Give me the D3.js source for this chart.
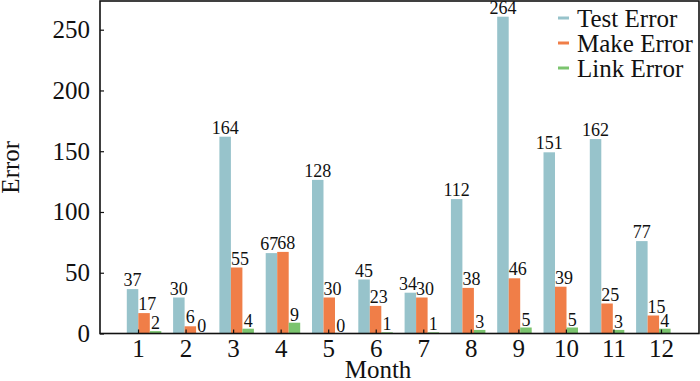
<!DOCTYPE html>
<html>
<head>
<meta charset="utf-8">
<script src="https://cdn.jsdelivr.net/npm/d3@7"></script>
<style>
  body { margin: 0; background: #fff; }
  text { font-family: "Liberation Serif", "DejaVu Serif", serif; fill: #111; }
</style>
</head>
<body>
<div id="chart"></div>
<script>
var width = 700;
var height = 381;

// data
var months = [1, 2, 3, 4, 5, 6, 7, 8, 9, 10, 11, 12];
var testError = [37, 30, 164, 67, 128, 45, 34, 112, 264, 151, 162, 77];
var makeError = [17, 6, 55, 68, 30, 23, 30, 38, 46, 39, 25, 15];
var linkError = [2, 0, 4, 9, 0, 1, 1, 3, 5, 5, 3, 4];
var yTicks = [0, 50, 100, 150, 200, 250];

var series = [
  {name: 'Test Error', values: testError, color: '#97c3cb', offset: -1},
  {name: 'Make Error', values: makeError, color: '#f07e48', offset: 0},
  {name: 'Link Error', values: linkError, color: '#7bc46e', offset: 1}
];

var margin = {top: 1, right: 1, bottom: 47.5, left: 100};
var y0 = height - margin.bottom;

var svg = d3.select('#chart')
  .append('svg')
    .attr('width', width)
    .attr('height', height);

// axis scales
var x = d3.scaleLinear()
  .domain([0.2, 12.8])
  .range([margin.left, width - margin.right]);

var y = d3.scaleLinear()
  .domain([0, 250])
  .range([y0, 29.7]);

// the bars in the original sit on a slightly tighter grid than the axis
var xBar = d3.scaleLinear()
  .domain([1, 12])
  .range([138.3, 647.6]);

var yBar = d3.scaleLinear()
  .domain([0, 264])
  .range([y0, 16.7]);

var barW = 11.5;

series.forEach(function(s) {
  var g = svg.append('g');
  g.selectAll('rect')
    .data(months)
    .join('rect')
      .attr('x', (m) => xBar(m) + s.offset * barW)
      .attr('y', (m, i) => yBar(s.values[i]))
      .attr('width', barW)
      .attr('height', (m, i) => y0 - yBar(s.values[i]))
      .attr('fill', s.color);
});

// value labels
var labels = svg.append('g').style('font-size', '18px');
months.forEach(function(m, i) {
  var t = testError[i], mk = makeError[i], l = linkError[i];
  var tx = xBar(m) - barW / 2, anchor = 'middle';
  // test label moves left when the make label sits at the same height
  if (Math.abs(t - mk) < 15) { tx = xBar(m) + 1; anchor = 'end'; }
  labels.append('text')
    .attr('x', tx).attr('y', yBar(t) - 3)
    .attr('text-anchor', anchor)
    .text(t);
  labels.append('text')
    .attr('x', mk >= 10 ? xBar(m) : xBar(m) + barW / 2)
    .attr('y', yBar(mk) - 3)
    .attr('text-anchor', mk >= 10 ? 'start' : 'middle')
    .text(mk);
  labels.append('text')
    .attr('x', xBar(m) + barW * 1.5).attr('y', yBar(l) - 2)
    .attr('text-anchor', 'middle')
    .text(l);
});

// axes, ticks pointing inward
var xAxis = svg.append('g')
  .attr('transform', 'translate(0,' + y0 + ')')
  .call(d3.axisBottom(x).tickValues(months).tickSizeInner(-4).tickSizeOuter(0).tickPadding(6));

var yAxis = svg.append('g')
  .attr('transform', 'translate(' + margin.left + ',0)')
  .call(d3.axisLeft(y).tickValues(yTicks).tickSizeInner(-4).tickSizeOuter(0).tickPadding(10));

[xAxis, yAxis].forEach(function(a) {
  a.select('.domain').remove();
  a.selectAll('line').attr('stroke', '#111').attr('stroke-width', 1.2);
  a.selectAll('text')
    .style('font-family', '"Liberation Serif", serif')
    .style('font-size', '25px')
    .attr('fill', '#111');
});

// frame
svg.append('rect')
  .attr('x', margin.left)
  .attr('y', margin.top)
  .attr('width', width - margin.left - margin.right)
  .attr('height', y0 - margin.top)
  .attr('fill', 'none')
  .attr('stroke', '#111')
  .attr('stroke-width', 1.6);

// axis titles
svg.append('text')
  .attr('x', 378)
  .attr('y', 378)
  .attr('text-anchor', 'middle')
  .style('font-size', '25px')
  .text('Month');

svg.append('text')
  .attr('transform', 'translate(19,' + ((margin.top + y0) / 2) + ') rotate(-90)')
  .attr('text-anchor', 'middle')
  .style('font-size', '25px')
  .text('Error');

// legend
var legend = svg.append('g');
series.forEach(function(s, i) {
  var ly = 18 + i * 25;
  legend.append('line')
    .attr('x1', 558).attr('x2', 569)
    .attr('y1', ly).attr('y2', ly)
    .attr('stroke', s.color)
    .attr('stroke-width', 3);
  legend.append('text')
    .attr('x', 577)
    .attr('y', ly)
    .attr('dy', '0.35em')
    .style('font-size', '25px')
    .text(s.name);
});
</script>
</body>
</html>
